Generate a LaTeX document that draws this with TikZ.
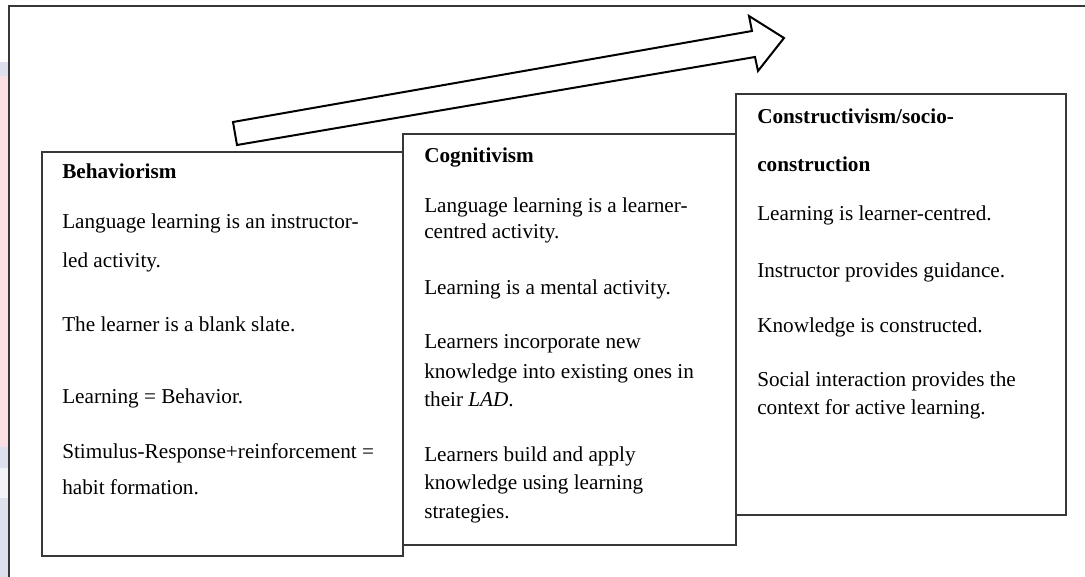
\documentclass[tikz,border=0pt]{standalone}
\usepackage{fontspec}
\setmainfont{Liberation Serif}
\usetikzlibrary{fit}
\definecolor{framegray}{RGB}{55,55,55}
\definecolor{stripPink}{RGB}{250,224,228}
\definecolor{stripLav}{RGB}{222,225,237}
\tikzset{
  boxrect/.style={draw=framegray, line width=1.1pt, fill=white, inner sep=0pt},
  txt/.style={anchor=base west, inner sep=0pt, font=\fontsize{15.9}{19}\selectfont},
  hdr/.style={txt, font=\fontsize{15.9}{19}\selectfont\bfseries},
  bigarrow/.style={draw=black, line width=1.5pt, fill=white, line join=miter}
}
\begin{document}
\begin{tikzpicture}[x=0.75pt, y=-0.75pt]
\useasboundingbox (0,0) rectangle (1085,577);
% faint strip on the left edge
\fill[stripLav] (0,62) rectangle (8,76);
\fill[stripPink] (0,76) rectangle (8,447);
\fill[stripLav] (0,447) rectangle (8,577);
\fill[white!60!stripLav] (0,468) rectangle (8,498);
% outer frame (left and top edges)
\coordinate (fbl) at (9,577);
\coordinate (ftl) at (9,6);
\coordinate (ftr) at (1085,6);
\draw[framegray, line width=1.1pt] (fbl) -- (ftl) -- (ftr);
% block arrow
\draw[bigarrow] (233,122) -- (752,31) -- (749,16) -- (784,38) -- (758,71) -- (755,57) -- (237,145) -- cycle;
% boxes
\node[boxrect, fit={(42,152) (403,556)}] (beh) {};
\node[boxrect, fit={(403,134) (736,545)}] (cog) {};
\node[boxrect, fit={(736,94) (1066,515)}] (con) {};
% Behaviorism text
\node[hdr] (b0) at (62,179) {Behaviorism};
\node[txt] (b1) at (62,229) {Language learning is an instructor-};
\node[txt] (b2) at (62,268) {led activity.};
\node[txt] (b3) at (62,331) {The learner is a blank slate.};
\node[txt] (b4) at (62,403) {Learning = Behavior.};
\node[txt] (b5) at (62,458) {Stimulus-Response+reinforcement =};
\node[txt] (b6) at (62,494) {habit formation.};
% Cognitivism text
\node[hdr] (c0) at (424,163) {Cognitivism};
\node[txt] (c1) at (424,213) {Language learning is a learner-};
\node[txt] (c2) at (424,239) {centred activity.};
\node[txt] (c3) at (424,295) {Learning is a mental activity.};
\node[txt] (c4) at (424,349) {Learners incorporate new};
\node[txt] (c5) at (424,378) {knowledge into existing ones in};
\node[txt] (c6) at (424,406) {their \textit{LAD}.};
\node[txt] (c7) at (424,461) {Learners build and apply};
\node[txt] (c8) at (424,489) {knowledge using learning};
\node[txt] (c9) at (424,518) {strategies.};
% Constructivism text
\node[hdr] (k0) at (757,124) {Constructivism/socio-};
\node[hdr] (k1) at (757,172) {construction};
\node[txt] (k2) at (757,221) {Learning is learner-centred.};
\node[txt] (k3) at (757,277) {Instructor provides guidance.};
\node[txt] (k4) at (757,332) {Knowledge is constructed.};
\node[txt] (k5) at (757,386) {Social interaction provides the};
\node[txt] (k6) at (757,414) {context for active learning.};
\end{tikzpicture}
\end{document}
